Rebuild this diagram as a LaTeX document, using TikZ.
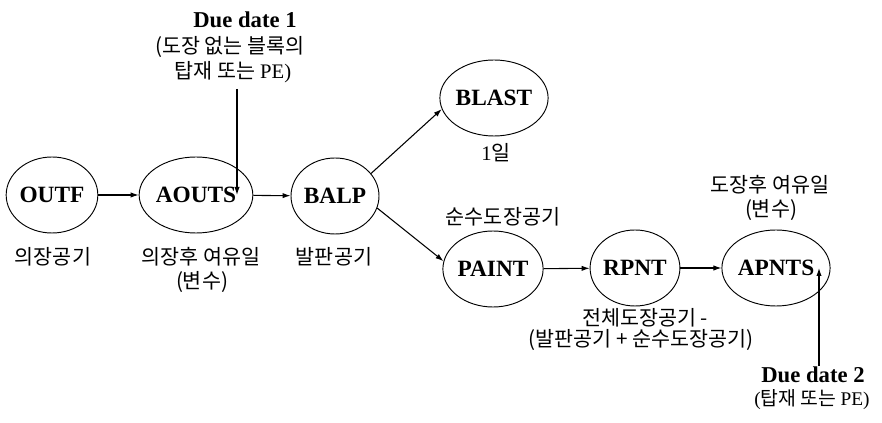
\documentclass[tikz,border=0pt]{standalone}
\usepackage{fontspec}
\setmainfont{Liberation Serif}
\newfontfamily\kr{Noto Sans CJK KR}
\usetikzlibrary{shapes.geometric,arrows.meta}
\begin{document}
\begin{tikzpicture}[x=0.75pt,y=-0.75pt,
  act/.style={ellipse,draw,line width=0.7pt,minimum width=66pt,minimum height=57pt,inner sep=0pt,font=\fontsize{17.5}{20}\selectfont\bfseries},
  arr/.style={line width=0.8pt,-{Latex[length=6pt,width=4pt]}},
  kt/.style={font=\fontsize{15.5}{18}\selectfont\kr,inner sep=0pt},
  dd/.style={font=\fontsize{17}{20}\selectfont\bfseries,inner sep=0pt}]
\useasboundingbox (0,0) rectangle (882,423);

% activity nodes
\node[act] (OUTF)  at (52,195)  {OUTF};
\node[act] (AOUTS) at (196,195) {AOUTS};
\node[act] (BALP)  at (335,196) {BALP};
\node[act] (BLAST) at (494,98)  {BLAST};
\node[act] (PAINT) at (493,269) {PAINT};
\node[act] (RPNT)  at (635,268) {RPNT};
\node[act] (APNTS) at (776,268) {APNTS};

% labels
\node[dd] (dd1) at (245,20) {Due date 1};
\node[kt] (dd1a) at (230,47) {(도장 없는 블록의};
\node[kt] (dd1b) at (233,72) {탑재 또는 {\rmfamily PE)}};
\node[kt] (l1) at (53,257) {의장공기};
\node[kt] (l2a) at (201,257) {의장후 여유일};
\node[kt] (l2b) at (202,282) {(변수)};
\node[kt] (l3) at (334,257) {발판공기};
\node[kt] (l4) at (496,153) {{\rmfamily 1}일};
\node[kt] (l5) at (503,217) {순수도장공기};
\node[kt] (l6a) at (770,185) {도장후 여유일};
\node[kt] (l6b) at (771,210) {(변수)};
\node[kt] (l7a) at (645,318) {전체도장공기 -};
\node[kt] (l7b) at (641,340) {(발판공기 + 순수도장공기)};
\node[dd,anchor=base,text depth=0pt] (dd2) at (813,383) {Due date 2};
\node[kt,font=\fontsize{14.5}{17}\selectfont\kr,anchor=base] (dd2a) at (812,406) {{\rmfamily (}탑재 또는 {\rmfamily PE)}};

% due date arrow start points
\coordinate (d1s) at (237,89);
\coordinate (d2s) at (819,366);

% connectors
\draw[arr] (OUTF) -- (AOUTS);
\draw[arr] (AOUTS) -- (BALP);
\draw[arr] (BALP.32) -- (BLAST.192);
\draw[arr] (BALP.344) -- (PAINT.171);
\draw[arr] (PAINT) -- (RPNT);
\draw[arr] (RPNT) -- (APNTS);
\draw[arr] (d1s) -- (d1s |- AOUTS.east);
\draw[arr] (d2s) -- (d2s |- APNTS.east);
\end{tikzpicture}
\end{document}
